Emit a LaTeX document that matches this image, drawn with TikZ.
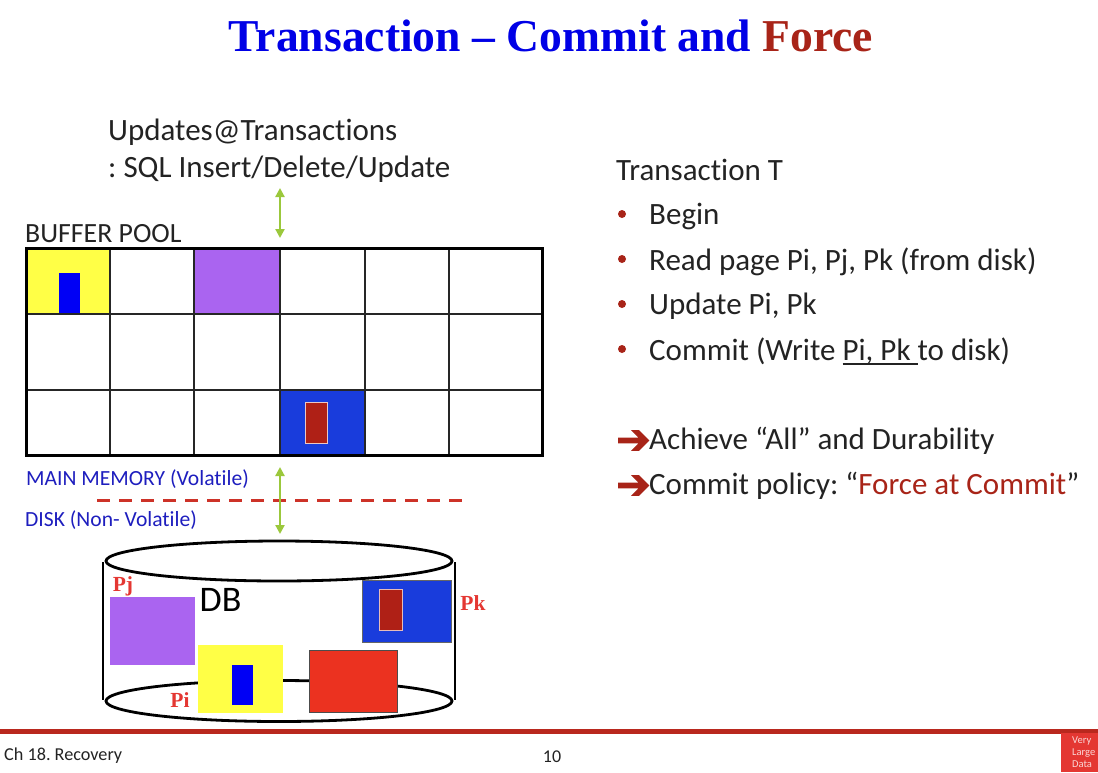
\documentclass[tikz,border=0pt]{standalone}
\usepackage{fontspec}
\setmainfont{Carlito}[Ligatures=CommonOff]
\newfontfamily\serifb{Liberation Serif}[BoldFont={Liberation Serif Bold}]
\newfontfamily\arrowfont{DejaVu Sans}[FakeBold=2.5]
\usetikzlibrary{arrows.meta}
\definecolor{titleblue}{RGB}{0,0,230}
\definecolor{forcered}{RGB}{168,36,24}
\definecolor{purp}{RGB}{170,100,240}
\definecolor{yel}{RGB}{255,255,70}
\definecolor{pageblue}{RGB}{25,60,220}
\definecolor{pureblue}{RGB}{0,0,245}
\definecolor{brick}{RGB}{175,32,22}
\definecolor{orangered}{RGB}{235,50,32}
\definecolor{labred}{RGB}{228,55,50}
\definecolor{arrowgreen}{RGB}{155,200,60}
\definecolor{memblue}{RGB}{30,30,190}
\definecolor{dashred}{RGB}{205,50,40}
\definecolor{txt}{RGB}{35,35,35}
\definecolor{footbar}{RGB}{185,40,30}
\newcommand{\thickul}[1]{\setbox0=\hbox{#1}\rlap{\rule[-4.5pt]{\wd0}{1.8pt}}\box0}
\tikzset{
  body/.style={anchor=west,inner sep=0pt,text=txt,font=\fontsize{31}{34}\selectfont\frenchspacing},
  bul/.style={circle,fill=forcered,inner sep=0pt,minimum size=8pt},
  tipmark/.style={anchor=west,inner sep=0pt,text=forcered,font=\arrowfont\fontsize{41}{41}\selectfont},
  grid line/.style={draw=black!85,line width=2pt},
  frame/.style={draw=black,line width=2.8pt},
  dbline/.style={draw=black,line width=2.8pt},
  page/.style={inner sep=0pt,anchor=north west},
  greenarrow/.style={draw=arrowgreen,line width=2.2pt,{Triangle[length=9pt,width=9pt]}-{Triangle[length=9pt,width=9pt]}},
  plabel/.style={inner sep=0pt,text=labred,font=\serifb\fontsize{21.5}{24}\selectfont\bfseries},
  memlabel/.style={anchor=west,inner sep=0pt,text=memblue,font=\fontsize{21.6}{24}\selectfont},
}
\begin{document}
\begin{tikzpicture}[x=1pt,y=-1pt]
\useasboundingbox (0,0) rectangle (1098,772);
% title
\node[inner sep=0pt,font=\serifb\fontsize{45.6}{50}\selectfont\bfseries] (title) at (551,36)
  {\textcolor{titleblue}{Transaction – Commit and }\textcolor{forcered}{Force}};
% updates
\node[body] (upd1) at (108,132) {Updates@Transactions};
\node[body] (upd2) at (108,169.5) {: SQL Insert/Delete/Update};
\node[anchor=west,inner sep=0pt,text=txt,font=\fontsize{27.8}{30}\selectfont] (bp) at (25,234) {BUFFER POOL};
% filled cells
\fill[yel] (27,249) rectangle (110,314);
\fill[pureblue] (59,273) rectangle (80,313);
\fill[purp] (194,249) rectangle (280,314);
\fill[pageblue] (280,390) rectangle (365,455);
\node[page,fill=brick,draw=white!75!brick,line width=.8pt,minimum width=22pt,minimum height=41pt] (inner) at (305,402) {};
% grid
\foreach \x in {110,194,280,365,449} \draw[grid line] (\x,248) -- (\x,455);
\foreach \y in {314,390} \draw[grid line] (26,\y) -- (542,\y);
\node[frame,inner sep=0pt,anchor=north west,minimum width=516pt,minimum height=207pt] (pool) at (25,247) {};
% arrows
\coordinate (a1t) at (280,188); \coordinate (a1b) at (280,238);
\draw[greenarrow] (a1t) -- (a1b);
% memory labels
\node[memlabel] (mm) at (26,479.5) {MAIN MEMORY (Volatile)};
\coordinate (d1) at (97,500); \coordinate (d2) at (462,500);
\draw[draw=dashred,line width=3pt,dash pattern=on 13pt off 9pt] (d1) -- (d2);
\node[memlabel] (dk) at (25,520) {DISK (Non- Volatile)};
\coordinate (a2t) at (280,467); \coordinate (a2b) at (280,534);
\draw[greenarrow] (a2t) -- (a2b);
% cylinder
\draw[dbline] (279,701) ellipse (173 and 20.5);
\draw[dbline] (103,562) -- (103,700);
\draw[dbline] (455,562) -- (455,700);
\draw[dbline,fill=white] (279,561) ellipse (173 and 20);
\node[inner sep=0pt,text=black,font=\fontsize{36}{38}\selectfont] (db) at (220.5,600) {DB};
% disk pages
\node[page,fill=purp,minimum width=85pt,minimum height=68pt] (pj) at (109.5,597) {};
\node[page,fill=yel,minimum width=85pt,minimum height=68pt] (pi) at (198,645) {};
\node[page,fill=pureblue,minimum width=21pt,minimum height=40pt] (piin) at (232,665) {};
\node[page,fill=orangered,draw=black!70,line width=1pt,minimum width=88pt,minimum height=62pt] (pr) at (309,650) {};
\node[page,fill=pageblue,draw=black!60,line width=.8pt,minimum width=89pt,minimum height=62pt] (pk) at (362,579.5) {};
\node[page,fill=brick,draw=white!70!brick,line width=.8pt,minimum width=23pt,minimum height=41pt] (pkin) at (378.5,589) {};
\node[plabel] (lpj) at (123,586) {Pj};
\node[plabel] (lpi) at (180,700) {Pi};
\node[plabel] (lpk) at (473,603) {Pk};
% right
\node[body] (tt) at (616,169.5) {Transaction T};
\node[bul] (b1) at (622,214) {};
\node[body] (t1) at (649,216.5) {Begin};
\node[bul] (b2) at (622,259) {};
\node[body] (t2) at (649,261.5) {Read page Pi, Pj, Pk (from disk)};
\node[bul] (b3) at (622,304) {};
\node[body] (t3) at (649,306) {Update Pi, Pk};
\node[bul] (b4) at (622,349) {};
\node[body] (t4) at (649,351) {Commit (Write \thickul{Pi, Pk }to disk)};
\node[tipmark] (ar1) at (616,442) {➔};
\node[body] (t5) at (649,441) {Achieve “All” and Durability};
\node[tipmark] (ar2) at (616,487) {➔};
\node[body] (t6) at (649,486) {Commit policy: “\textcolor{forcered}{Force at Commit}”};
% footer
\coordinate (f1) at (0,731.5); \coordinate (f2) at (1098,731.5);
\draw[draw=footbar,line width=4.5pt] (f1) -- (f2);
\node[anchor=west,inner sep=0pt,text=txt,font=\fontsize{18.2}{20}\selectfont\frenchspacing] (ch) at (4,755.5) {Ch 18. Recovery};
\node[inner sep=0pt,text=txt,font=\fontsize{18}{20}\selectfont] (pn) at (552,756.5) {10};
\node[anchor=north west,inner sep=0pt,fill=labred,minimum width=37pt,minimum height=39pt] (logo) at (1061,733) {};
\node[anchor=west,inner sep=0pt,align=left,text=white!80!labred,font=\fontsize{10.5}{12}\selectfont] (logot) at (1072,752) {Very\\Large\\Data};
\end{tikzpicture}
\end{document}
